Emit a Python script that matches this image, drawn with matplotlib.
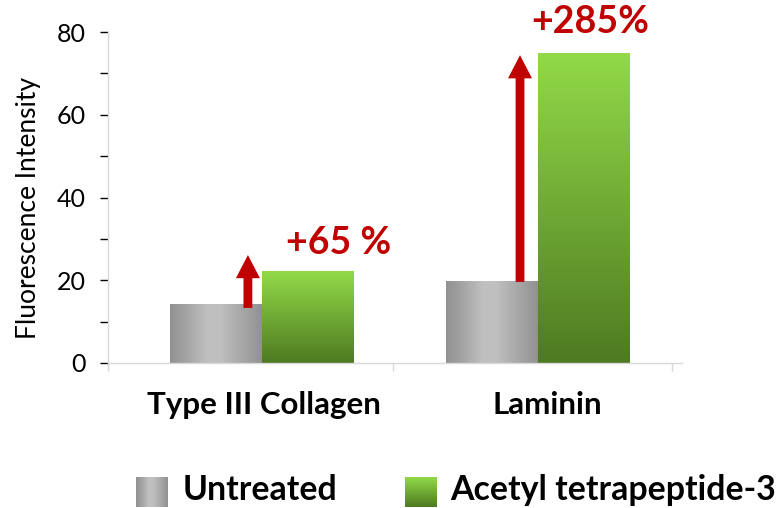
import numpy as np
import matplotlib
matplotlib.use("Agg")
import matplotlib.pyplot as plt
from matplotlib.patches import FancyArrow

plt.rcParams['font.family'] = ['Lato', 'DejaVu Sans']

categories = ['Type III Collagen', 'Laminin']
untreated = [14.3, 19.7]
treated = [22.2, 75.0]
increase_labels = ['+65 %', '+285%']
legend_labels = ['Untreated', 'Acetyl tetrapeptide-3']

W, H = 782, 508
fig = plt.figure(figsize=(W / 100, H / 100), dpi=100)


def fx(px):
    return px / W


def fy(py):
    return 1 - py / H


ax = fig.add_axes([fx(108), fy(363), fx(682) - fx(108), fy(32) - fy(363)])

x = np.arange(len(categories))
bw = 0.333
red = '#C00000'

# gradient images
gray_prof = np.interp(np.linspace(0, 1, 200), [0, 0.15, 0.4, 0.55, 0.85, 1],
                      [0.57, 0.63, 0.75, 0.75, 0.63, 0.57])
gray_img = np.dstack([gray_prof] * 3)
g_top = np.array([146, 218, 72]) / 255
g_bot = np.array([78, 122, 34]) / 255
t = np.linspace(0, 1, 200)[:, None]
green_img = (g_top * (1 - t) + g_bot * t)[:, None, :]


def grad_bar(xl, h, img):
    b = ax.bar(xl, h, width=bw, align='edge', color='none', linewidth=0)[0]
    im = ax.imshow(img, extent=[xl, xl + bw, 0, h], aspect='auto',
                   interpolation='bilinear', zorder=2)
    im.set_clip_path(b)


for i in range(len(categories)):
    grad_bar(x[i] - bw, untreated[i], gray_img)
    grad_bar(x[i], treated[i], green_img)

ax.set_xlim(-0.558, 1.522)
ax.set_ylim(0, 80)

# arrows
arrow_x = [-0.051, 0.935]
arrow_y0 = [13.3, 19.6]
arrow_tip = [26.1, 74.4]
for i in range(len(categories)):
    ax.add_patch(FancyArrow(arrow_x[i], arrow_y0[i], 0, arrow_tip[i] - arrow_y0[i],
                            width=0.032, head_width=0.087, head_length=5.6,
                            length_includes_head=True, color=red, lw=0, zorder=3))

# axes styling
for s in ['top', 'right']:
    ax.spines[s].set_visible(False)
for s in ['left', 'bottom']:
    ax.spines[s].set_color('#D9D9D9')
    ax.spines[s].set_linewidth(1)

ax.set_yticks([0, 20, 40, 60, 80])
ax.set_yticks([10, 30, 50, 70], minor=True)
ax.tick_params(axis='y', which='both', length=6, width=1, direction='out', pad=10,
               labelsize=18)
maj_cols = ['#D9D9D9', '#D9D9D9', 'black', 'black', 'black']
min_cols = ['black', 'black', '#D9D9D9', '#D9D9D9']
for tk, c in zip(ax.yaxis.get_major_ticks(), maj_cols):
    tk.tick1line.set_color(c)
for tk, c in zip(ax.yaxis.get_minor_ticks(), min_cols):
    tk.tick1line.set_color(c)

ax.set_xticks([-0.558, 0.475, 1.486])
ax.set_xticklabels([])
ax.tick_params(axis='x', length=6, width=1, color='#D9D9D9')

fig.text(fx(29), fy(208), 'Fluorescence Intensity', rotation=90,
         ha='center', va='center', fontsize=19)

# category labels
cat_px = [264, 547]
for c, px in zip(categories, cat_px):
    fig.text(fx(px), fy(405), c, ha='center', va='center', fontsize=22.5,
             fontweight='bold')

# increase labels
lab_pos = [(339, 243), (590, 22)]
for s, (px, py) in zip(increase_labels, lab_pos):
    fig.text(fx(px), fy(py), s, ha='center', va='center', fontsize=27,
             fontweight='bold', color=red)

# legend
sq = [(136, 168), (405, 437)]
imgs = [gray_img, green_img]
for (x0, x1), img in zip(sq, imgs):
    lax = fig.add_axes([fx(x0), fy(507), fx(x1) - fx(x0), fy(477) - fy(507)])
    lax.imshow(img, aspect='auto', interpolation='bilinear')
    lax.axis('off')
txt_x = [183, 450]
for s, px in zip(legend_labels, txt_x):
    fig.text(fx(px), fy(490), s, ha='left', va='center', fontsize=24.4,
             fontweight='bold')

fig.savefig('out.png', dpi=100)
